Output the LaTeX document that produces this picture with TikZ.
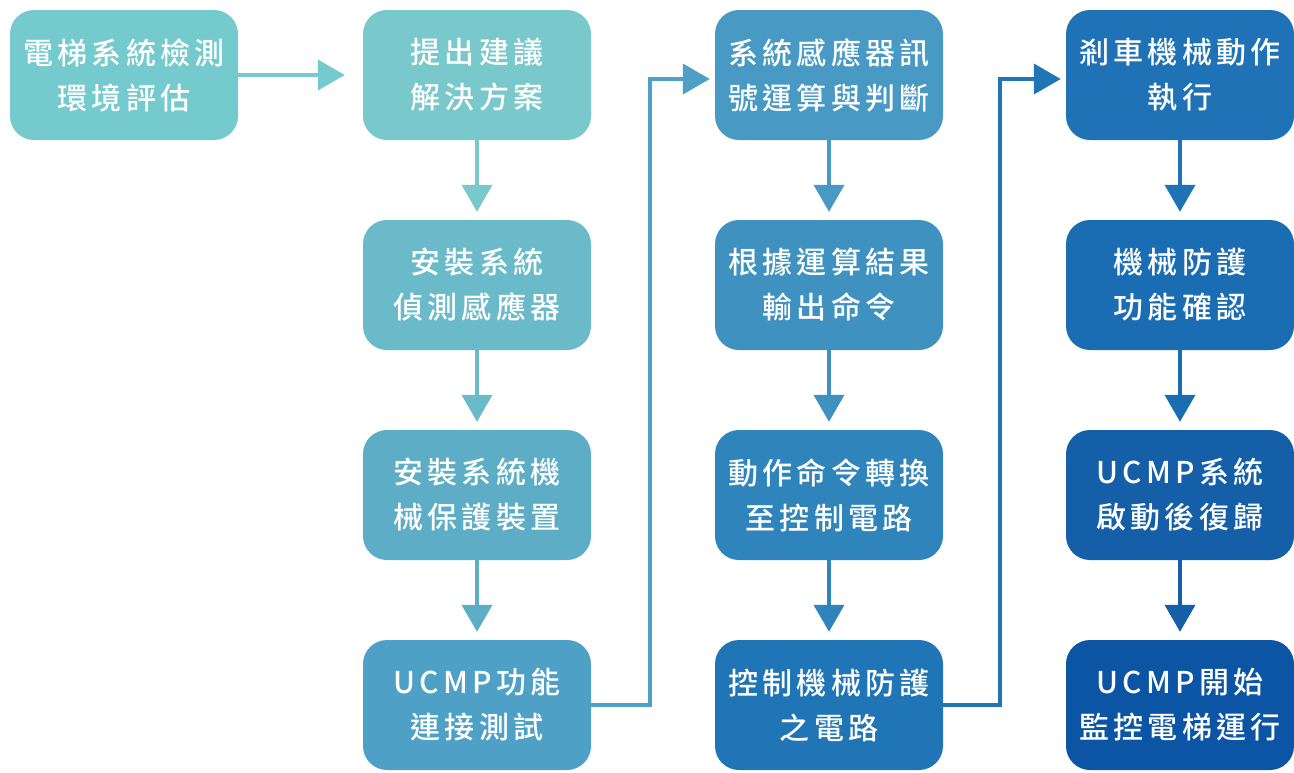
\documentclass[tikz,border=0pt]{standalone}
\usepackage{fontspec}
\newfontfamily\cjk{Noto Sans CJK TC Medium}[LetterSpace=14]
\usetikzlibrary{arrows.meta}
\definecolor{a1}{HTML}{74CACC}
\definecolor{b1}{HTML}{78C8CC}
\definecolor{b2}{HTML}{6ABACA}
\definecolor{b3}{HTML}{5DADC6}
\definecolor{b4}{HTML}{4EA0C6}
\definecolor{c1}{HTML}{4899C3}
\definecolor{c2}{HTML}{3F91C0}
\definecolor{c3}{HTML}{2F84BC}
\definecolor{c4}{HTML}{1F75B6}
\definecolor{d1}{HTML}{1E72B5}
\definecolor{d2}{HTML}{1A6DB2}
\definecolor{d3}{HTML}{145FA8}
\definecolor{d4}{HTML}{0B55A4}
\tikzset{
  box/.style={rounded corners=24pt, minimum width=228pt, minimum height=130pt, inner sep=0pt,
    align=center, text=white, font=\cjk\fontsize{30}{45}\selectfont},
  arr/.style={line width=4pt, -{Triangle[length=27pt,width=30pt]}},
}
\begin{document}
\begin{tikzpicture}[x=1pt,y=-1pt]
\useasboundingbox (0,0) rectangle (1294,772);
\node[box, fill=a1] (a1) at (124,75) {電梯系統檢測\\環境評估};
\node[box, fill=b1] (b1) at (477,75) {提出建議\\解決方案};
\node[box, fill=b2] (b2) at (477,285) {安裝系統\\偵測感應器};
\node[box, fill=b3] (b3) at (477,495) {安裝系統機\\械保護裝置};
\node[box, fill=b4] (b4) at (477,705) {UCMP功能\\連接測試};
\node[box, fill=c1] (c1) at (829,75) {系統感應器訊\\號運算與判斷};
\node[box, fill=c2] (c2) at (829,285) {根據運算結果\\輸出命令};
\node[box, fill=c3] (c3) at (829,495) {動作命令轉換\\至控制電路};
\node[box, fill=c4] (c4) at (829,705) {控制機械防護\\之電路};
\node[box, fill=d1] (d1) at (1180,75) {剎車機械動作\\執行};
\node[box, fill=d2] (d2) at (1180,285) {機械防護\\功能確認};
\node[box, fill=d3] (d3) at (1180,495) {UCMP系統\\啟動後復歸};
\node[box, fill=d4] (d4) at (1180,705) {UCMP開始\\監控電梯運行};
\draw[arr, a1, shorten >=18pt] (a1.east) -- (b1.west);
\draw[arr, b1, shorten >=8pt] (b1.south) -- (b2.north);
\draw[arr, b2, shorten >=8pt] (b2.south) -- (b3.north);
\draw[arr, b3, shorten >=8pt] (b3.south) -- (b4.north);
\draw[arr, c1, shorten >=8pt] (c1.south) -- (c2.north);
\draw[arr, c2, shorten >=8pt] (c2.south) -- (c3.north);
\draw[arr, c3, shorten >=8pt] (c3.south) -- (c4.north);
\draw[arr, d1, shorten >=8pt] (d1.south) -- (d2.north);
\draw[arr, d2, shorten >=8pt] (d2.south) -- (d3.north);
\draw[arr, d3, shorten >=8pt] (d3.south) -- (d4.north);
\draw[arr, b4, shorten >=5pt] (b4.east) -- ++(59,0) |- ([yshift=-4pt]c1.west);
\draw[arr, c4, shorten >=5pt] (c4.east) -- ++(57,0) |- ([yshift=-4pt]d1.west);
\end{tikzpicture}
\end{document}
